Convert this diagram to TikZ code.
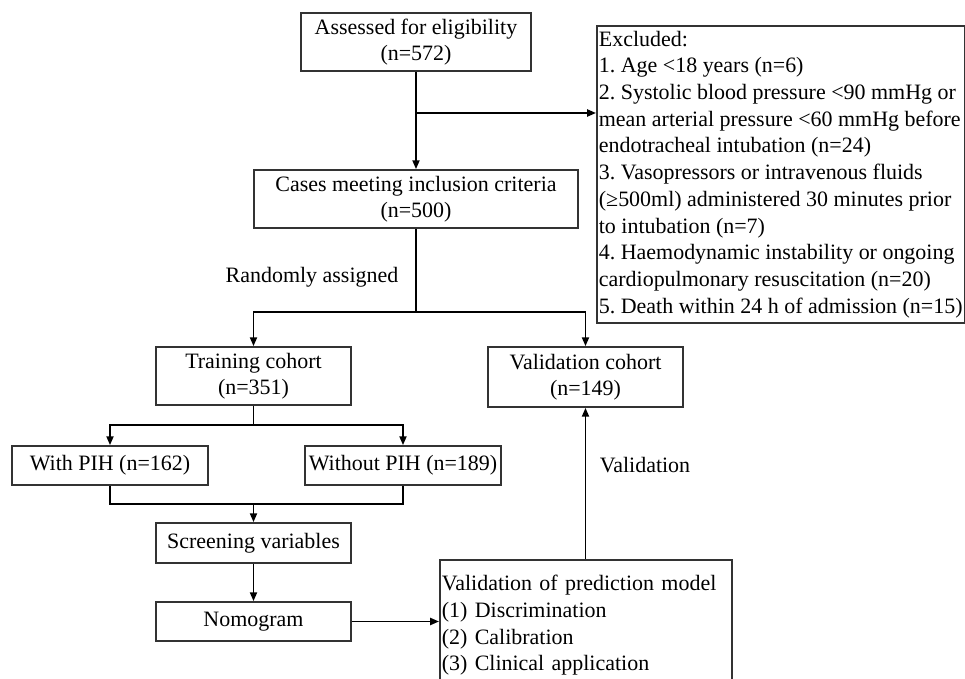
\documentclass[tikz,border=0pt]{standalone}
\usepackage{fontspec}
\setmainfont{Liberation Serif}
\usepackage{tikz}
\usetikzlibrary{arrows.meta}
\tikzstyle{bx}=[draw=black!80,rectangle,fill=white,line width=1pt,inner sep=2pt,align=center,font=\fontsize{12.5}{15}\selectfont\frenchspacing]
\tikzstyle{lst}=[bx,align=left,anchor=north west,font=\fontsize{12.5}{15.2}\selectfont\frenchspacing]
\tikzstyle{lbl}=[draw=none,font=\fontsize{12.5}{15}\selectfont]
\tikzstyle{wide}=[minimum width=3.9cm]

\begin{document}
\begin{tikzpicture}[x=0.02cm,y=-0.02cm,line width=1pt,>={Triangle[length=5pt,width=4pt]}]
    %\draw [help lines] (0,0) grid[step=50] (965,679);
    \useasboundingbox (0,0) rectangle (965,679);

    \node [bx, minimum width=4.6cm, minimum height=1.16cm]  (A) at (416,42)    {Assessed for eligibility\\(n=572)};
    \node [bx, minimum width=6.48cm, minimum height=1.16cm] (C) at (416,199)   {Cases meeting inclusion criteria\\(n=500)};
    \node [lst, inner xsep=0.04cm, minimum height=5.94cm, font=\fontsize{12.5}{15.2}\selectfont\frenchspacing] (E) at (596,25)
          {Excluded:\\
           1. Age <18 years (n=6)\\
           2. Systolic blood pressure <90 mmHg or\\
           mean arterial pressure <60 mmHg before\\
           endotracheal intubation (n=24)\\
           3. Vasopressors or intravenous fluids\\
           (≥500ml) administered 30 minutes prior\\
           to intubation (n=7)\\
           4. Haemodynamic instability or ongoing\\
           cardiopulmonary resuscitation (n=20)\\
           5. Death within 24 h of admission (n=15)};
    \node [bx, wide, minimum height=1.16cm] (T)  at (253.5,376) {Training cohort\\(n=351)};
    \node [bx, wide, minimum height=1.2cm]  (V)  at (585.5,377) {Validation cohort\\(n=149)};
    \node [bx, minimum width=3.92cm, minimum height=0.78cm] (W)  at (110,465.5) {With PIH (n=162)};
    \node [bx, minimum width=3.92cm, minimum height=0.78cm] (WO) at (403,465.5) {Without PIH (n=189)};
    \node [bx, wide, minimum height=0.8cm]  (S)  at (253.5,543) {Screening variables};
    \node [bx, wide, minimum height=0.78cm] (N)  at (253.5,621.5) {Nomogram};
    \node [lst, text width=5.76cm, inner xsep=0.04cm, minimum height=2.62cm] (P) at (439,559)
          {Validation of prediction model\\
           (1) Discrimination\\
           (2) Calibration\\
           (3) Clinical application};

    \node [lbl] (RA)  at (312,277) {Randomly assigned};
    \node [lbl] (VL)  at (645,465) {Validation};

    \coordinate (j1) at (416,113);
    \coordinate (j2) at (416,312);
    \coordinate (j3) at (253.5,425);
    \coordinate (j4) at (253.5,504);

    \draw [->] (A) -- (C);
    \draw [->] (j1) -- (j1 -| E.west);
    \draw (C) -- (j2);
    \draw [->] (j2) -| (T);
    \draw [->] (j2) -| (V);
    \draw (T) -- (j3);
    \draw [->] (j3) -| (W);
    \draw [->] (j3) -| (WO);
    \draw (W) |- (j4);
    \draw (WO) |- (j4);
    \draw [->] (j4) -- (S);
    \draw [->] (S) -- (N);
    \draw [->] (N.east) -- (N.east -| P.west);
    \draw [->] (P.north -| V) -- (V);

  \end{tikzpicture}
\end{document}
